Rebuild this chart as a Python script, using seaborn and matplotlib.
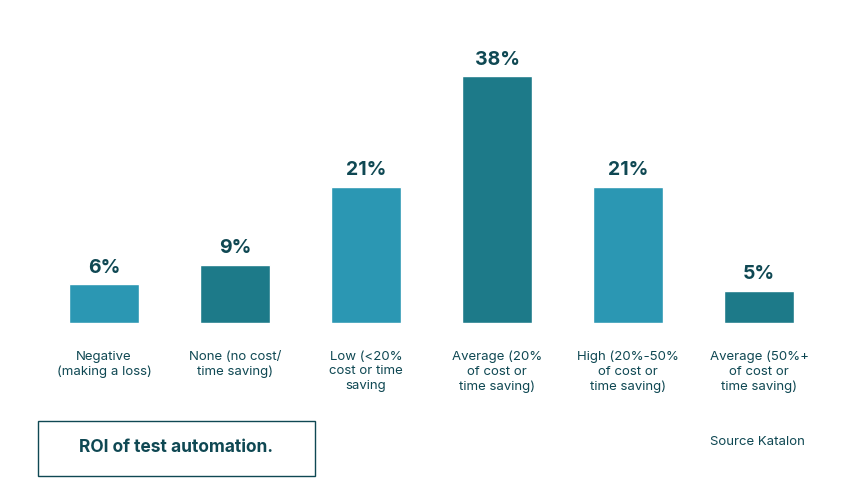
import matplotlib
matplotlib.use("Agg")
import matplotlib.pyplot as plt
import seaborn as sns
import pandas as pd
from matplotlib.patches import Rectangle

categories = ["Negative\n(making a loss)", "None (no cost/\ntime saving)", "Low (<20%\ncost or time\nsaving",
              "Average (20%\nof cost or\ntime saving)", "High (20%-50%\nof cost or\ntime saving)", "Average (50%+\nof cost or\ntime saving)"]
values = [6, 9, 21, 38, 21, 5]
labels = ["6%", "9%", "21%", "38%", "21%", "5%"]

sns.set_theme(style="white")
plt.rcParams['font.family'] = ['Inter', 'DejaVu Sans']
light, dark, txt = "#2b97b3", "#1d7a89", "#0f4853"
df = pd.DataFrame({"cat": categories, "val": values})

fig = plt.figure(figsize=(8.6, 5), dpi=100)
ax = fig.add_axes([0.0448, 0.354, 0.914, 0.52])
sns.barplot(data=df, x="cat", y="val", hue="cat", palette=[light, dark] * 3,
            width=0.534, legend=False, ax=ax, saturation=1)
ax.set_ylim(0, 40)
ax.set_xlim(-0.5, 5.5)
for i, (v, l) in enumerate(zip(values, labels)):
    ax.text(i, v + 1.1, l, ha="center", va="bottom", fontsize=14, fontweight="bold", color=txt)
ax.set_xticks(range(6))
ax.set_xticklabels(categories, fontsize=9.5, color=txt, linespacing=1.3, va="top")
ax.tick_params(axis="x", length=0, pad=20)
ax.set_yticks([])
ax.set_xlabel(""); ax.set_ylabel("")
for s in ax.spines.values():
    s.set_visible(False)

fig.patches.append(Rectangle((38/860, 1-476/500), 277/860, 55/500, transform=fig.transFigure,
                             fill=False, edgecolor=txt, linewidth=1))
fig.text(176/860, 1-448/500, "ROI of test automation.", ha="center", va="center",
         fontsize=12.5, fontweight="bold", color=txt)
fig.text(805/860, 1-442/500, "Source Katalon", ha="right", va="center", fontsize=9.5, color=txt)
fig.savefig("out.png", dpi=100, facecolor="white")
